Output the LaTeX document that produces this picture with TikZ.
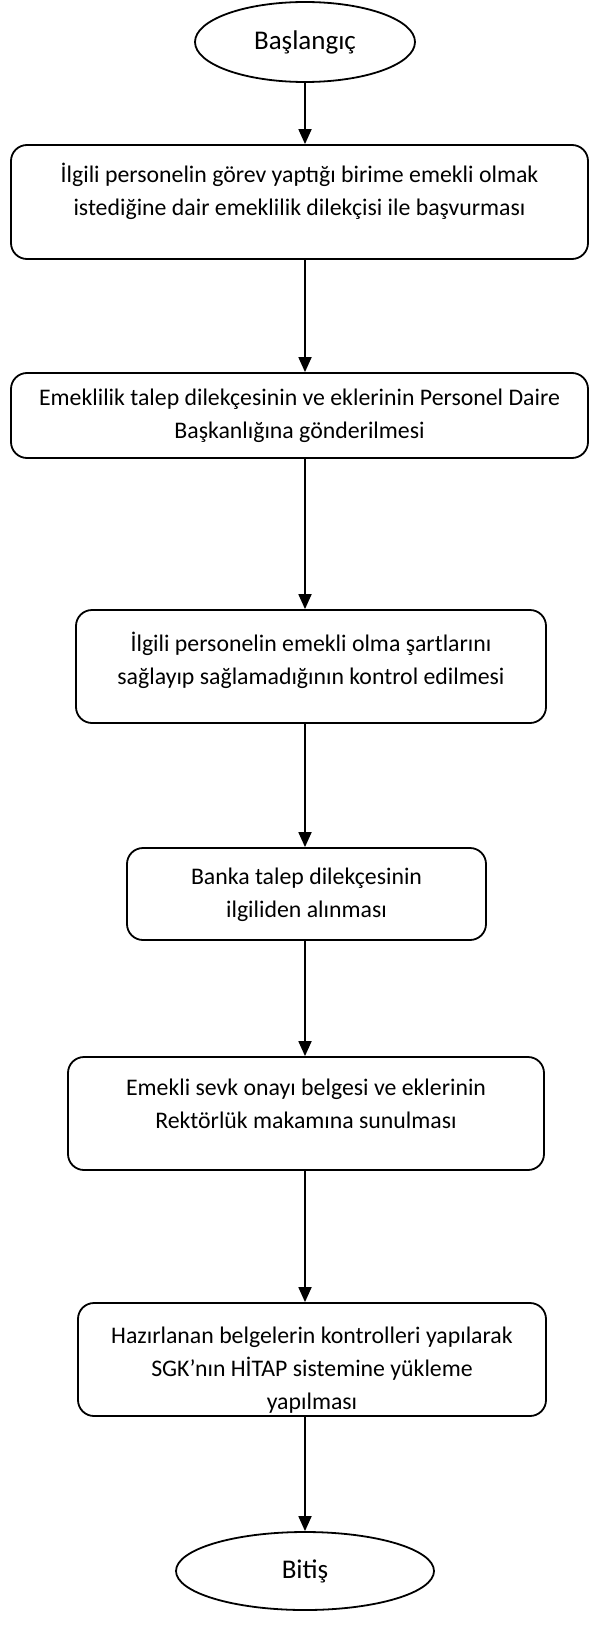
\documentclass[tikz,border=0pt]{standalone}
\usepackage{fontspec}
\setmainfont{Carlito}
\usetikzlibrary{arrows.meta,shapes.geometric}
\tikzset{
  boxst/.style={draw=black, line width=1.8pt, rounded corners=16pt, inner sep=0pt},
  termst/.style={draw=black, line width=1.8pt, ellipse, inner sep=0pt},
  txt/.style={align=center, inner sep=0pt, font=\fontsize{23.8}{33}\selectfont},
  ttxt/.style={inner sep=0pt, font=\fontsize{27}{30}\selectfont},
  arr/.style={line width=1.8pt, -{Triangle[width=13pt,length=15pt]}}
}
\begin{document}
\begin{tikzpicture}[x=1pt,y=-1pt]
\useasboundingbox (0,0) rectangle (589,1627);
% start
\node[termst, minimum width=220pt, minimum height=80pt] (s) at (305,42) {};
\node[ttxt] (st) at (305,42) {Başlangıç};
% box 1
\node[boxst, minimum width=577pt, minimum height=114pt] (b1) at (299.5,202) {};
\node[txt] (t1) at (299.5,191) {İlgili personelin görev yaptığı birime emekli olmak\\istediğine dair emeklilik dilekçisi ile başvurması};
% box 2
\node[boxst, minimum width=577pt, minimum height=85pt] (b2) at (299.5,415.5) {};
\node[txt] (t2) at (299.5,416) {Emeklilik talep dilekçesinin ve eklerinin Personel Daire\\Başkanlığına gönderilmesi};
% box 3
\node[boxst, minimum width=470pt, minimum height=113pt] (b3) at (311,666.5) {};
\node[txt] (t3) at (311,660) {İlgili personelin emekli olma şartlarını\\sağlayıp sağlamadığının kontrol edilmesi};
% box 4
\node[boxst, minimum width=359pt, minimum height=92pt] (b4) at (306.5,894) {};
\node[txt] (t4) at (306.5,895) {Banka talep dilekçesinin\\ilgiliden alınması};
% box 5
\node[boxst, minimum width=476pt, minimum height=113pt] (b5) at (306,1113.5) {};
\node[txt] (t5) at (306,1104) {Emekli sevk onayı belgesi ve eklerinin\\Rektörlük makamına sunulması};
% box 6
\node[boxst, minimum width=468pt, minimum height=113pt] (b6) at (312,1359.5) {};
\node[txt] (t6) at (312,1370) {Hazırlanan belgelerin kontrolleri yapılarak\\SGK’nın HİTAP sistemine yükleme\\yapılması};
% end
\node[termst, minimum width=258pt, minimum height=78pt] (e) at (305,1571) {};
\node[ttxt] (et) at (305,1571) {Bitiş};
% connectors
\draw[arr] (s.south) -- (b1.north -| s.south);
\draw[arr] (b1.south -| s.south) -- (b2.north -| s.south);
\draw[arr] (b2.south -| s.south) -- (b3.north -| s.south);
\draw[arr] (b3.south -| s.south) -- (b4.north -| s.south);
\draw[arr] (b4.south -| s.south) -- (b5.north -| s.south);
\draw[arr] (b5.south -| s.south) -- (b6.north -| s.south);
\draw[arr] (b6.south -| s.south) -- (e.north -| s.south);
\end{tikzpicture}
\end{document}
